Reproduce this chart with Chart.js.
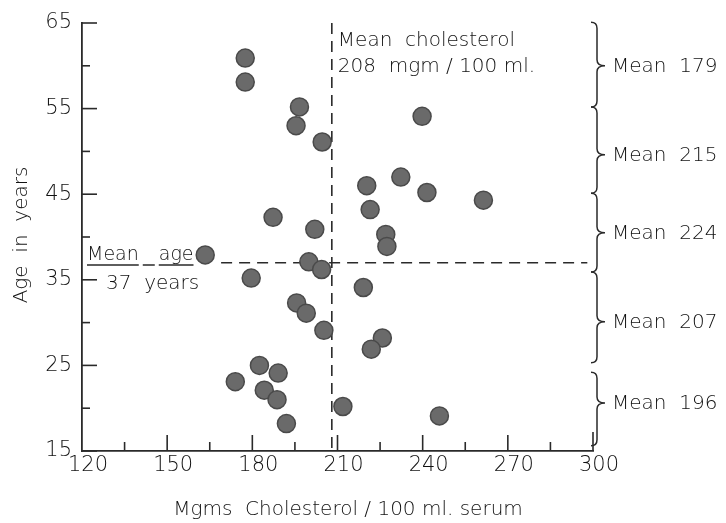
<!DOCTYPE html>
<html>
<head>
<meta charset="utf-8">
<script src="https://cdn.jsdelivr.net/npm/chart.js@4.4.0/dist/chart.umd.min.js"></script>
<style>
body { margin: 0; background: #fff; }
</style>
</head>
<body>
<canvas id="scatterChart" width="726" height="523"></canvas>
<script>
// one entry per person
var cholesterol = [177.5, 177.5, 196.6, 195.4, 204.6, 187.3, 202.0, 163.4, 199.9, 204.4, 179.6,
                   195.6, 199.0, 205.2, 182.5, 189.1, 174.0, 184.2, 188.7, 192.0, 211.9, 239.8,
                   232.3, 220.3, 241.5, 261.4, 221.5, 227.0, 227.4, 219.1, 225.8, 221.9, 245.9];
var age = [60.9, 58.1, 55.2, 53.0, 51.1, 42.3, 40.9, 37.9, 37.1, 36.2, 35.2,
           32.3, 31.1, 29.1, 25.0, 24.1, 23.1, 22.1, 21.0, 18.2, 20.2, 54.1,
           47.0, 46.0, 45.2, 44.3, 43.2, 40.3, 38.9, 34.1, 28.2, 26.9, 19.1];

// axis ticks
var xTicks = [120, 150, 180, 210, 240, 270, 300];
var yTicks = [15, 25, 35, 45, 55, 65];

// overall means
var meanCholesterol = 208;
var meanAge = 37;

// age groups on the right: brace top / bottom / tip (years) and label
var braceTop = [65.1, 55.2, 45.1, 35.9, 24.2];
var braceBottom = [55.2, 45.1, 35.9, 25.3, 15.6];
var braceTip = [60, 49.6, 40.5, 30.1, 20.6];
var groupMeans = ['Mean  179', 'Mean  215', 'Mean  224', 'Mean  207', 'Mean  196'];

var FONT = '"DejaVu Sans", Lato, sans-serif';
var W = '200 ';
var INK = '#111';

var points = [];
for (var i = 0; i < cholesterol.length; i++) {
    points.push({x: cholesterol[i], y: age[i]});
}

var extras = {
    id: 'extras',
    beforeDatasetsDraw: function(chart) {
        var ctx = chart.ctx, xs = chart.scales.x, ys = chart.scales.y;
        ctx.save();
        ctx.strokeStyle = '#2a2a2a';
        ctx.lineWidth = 1.6;
        ctx.setLineDash([11, 7]);
        // mean cholesterol (vertical)
        var mx = xs.getPixelForValue(meanCholesterol);
        ctx.beginPath();
        ctx.moveTo(mx, ys.getPixelForValue(65));
        ctx.lineTo(mx, ys.getPixelForValue(15));
        ctx.stroke();
        // mean age (horizontal)
        var my = ys.getPixelForValue(meanAge);
        ctx.beginPath();
        ctx.moveTo(xs.getPixelForValue(169), my);
        ctx.lineTo(xs.getPixelForValue(298), my);
        ctx.stroke();
        ctx.restore();
    },
    afterDraw: function(chart) {
        var ctx = chart.ctx, xs = chart.scales.x, ys = chart.scales.y;
        var area = chart.chartArea;
        ctx.save();
        ctx.strokeStyle = '#2a2a2a';
        ctx.lineWidth = 1.6;
        // inner ticks on the y axis
        for (var v = 15; v <= 65; v += 5) {
            var py = ys.getPixelForValue(v);
            var len = (v - 15) % 10 === 0 ? 15 : 8;
            ctx.beginPath();
            ctx.moveTo(area.left, py);
            ctx.lineTo(area.left + len, py);
            ctx.stroke();
        }
        // inner ticks on the x axis
        for (var c = 135; c <= 300; c += 15) {
            var px = xs.getPixelForValue(c);
            var l = c % 30 === 0 ? 16 : 9;
            if (c === 300) l = 19;
            ctx.beginPath();
            ctx.moveTo(px, area.bottom);
            ctx.lineTo(px, area.bottom - l);
            ctx.stroke();
        }

        ctx.fillStyle = INK;
        ctx.textBaseline = 'alphabetic';

        // axis titles
        ctx.font = W + '20px ' + FONT;
        ctx.textAlign = 'center';
        ctx.fillText('Mgms  Cholesterol / 100 ml. serum', 348, 515);
        ctx.save();
        ctx.translate(27, 235);
        ctx.rotate(-Math.PI / 2);
        ctx.fillText('Age  in  years', 0, 0);
        ctx.restore();

        // mean cholesterol note
        ctx.textAlign = 'left';
        var mx = xs.getPixelForValue(meanCholesterol);
        ctx.fillText('Mean  cholesterol', mx + 6, 46);
        ctx.fillText('208  mgm / 100 ml.', mx + 6, 72);

        // mean age note
        ctx.font = W + '19px ' + FONT;
        var w1 = ctx.measureText('Mean').width, w2 = ctx.measureText('age').width;
        var ax = 87, dx = ax + w1 + 4, gx = dx + 16;
        ctx.fillText('Mean', ax, 260);
        ctx.fillText('age', gx, 260);
        ctx.font = W + '20px ' + FONT;
        ctx.fillText('37  years', 106, 289);
        ctx.lineWidth = 1.4;
        ctx.beginPath();
        ctx.moveTo(ax, 265); ctx.lineTo(ax + w1, 265);
        ctx.moveTo(dx, 265); ctx.lineTo(dx + 12, 265);
        ctx.moveTo(gx, 265); ctx.lineTo(gx + w2, 265);
        ctx.stroke();

        // braces and group means
        ctx.lineWidth = 1.5;
        ctx.font = W + '20px ' + FONT;
        var bx = area.right + 4;
        for (var k = 0; k < braceTop.length; k++) {
            var y1 = ys.getPixelForValue(braceTop[k]);
            var y2 = ys.getPixelForValue(braceBottom[k]);
            var ym = ys.getPixelForValue(braceTip[k]);
            ctx.beginPath();
            ctx.moveTo(bx - 6, y1);
            ctx.quadraticCurveTo(bx, y1, bx, y1 + 6);
            ctx.lineTo(bx, ym - 6);
            ctx.quadraticCurveTo(bx, ym, bx + 8, ym);
            ctx.quadraticCurveTo(bx, ym, bx, ym + 6);
            ctx.lineTo(bx, y2 - 6);
            ctx.quadraticCurveTo(bx, y2, bx - 6, y2);
            ctx.stroke();
            ctx.textBaseline = 'middle';
            ctx.fillText(groupMeans[k], bx + 15, ym + 1);
        }
        ctx.restore();
    }
};

const ctx = document.getElementById('scatterChart').getContext('2d');
const scatterChart = new Chart(ctx, {
    type: 'scatter',
    data: {
        datasets: [{
            data: points,
            backgroundColor: '#6a6a6a',
            borderColor: '#4a4a4a',
            borderWidth: 1.5,
            pointRadius: 9,
            pointHoverRadius: 9
        }]
    },
    options: {
        responsive: false,
        animation: false,
        layout: {padding: {top: 23, right: 133, left: 0, bottom: 0}},
        plugins: {legend: {display: false}, tooltip: {enabled: false}},
        scales: {
            x: {
                type: 'linear',
                min: 120,
                max: 300,
                afterBuildTicks: function(s) { s.ticks = xTicks.map(function(v) { return {value: v}; }); },
                afterFit: function(s) { s.height = 72; },
                grid: {display: false, drawTicks: false},
                border: {display: true, color: '#2a2a2a', width: 1.8},
                ticks: {color: INK, font: {family: FONT, size: 21, weight: 200}, padding: 2, labelOffset: 6, maxRotation: 0}
            },
            y: {
                type: 'linear',
                min: 15,
                max: 65,
                afterBuildTicks: function(s) { s.ticks = yTicks.map(function(v) { return {value: v}; }); },
                afterFit: function(s) { s.width = 82; },
                grid: {display: false, drawTicks: false},
                border: {display: true, color: '#2a2a2a', width: 1.8},
                ticks: {color: INK, font: {family: FONT, size: 21, weight: 200}, padding: 10}
            }
        }
    },
    plugins: [extras]
});
</script>
</body>
</html>
